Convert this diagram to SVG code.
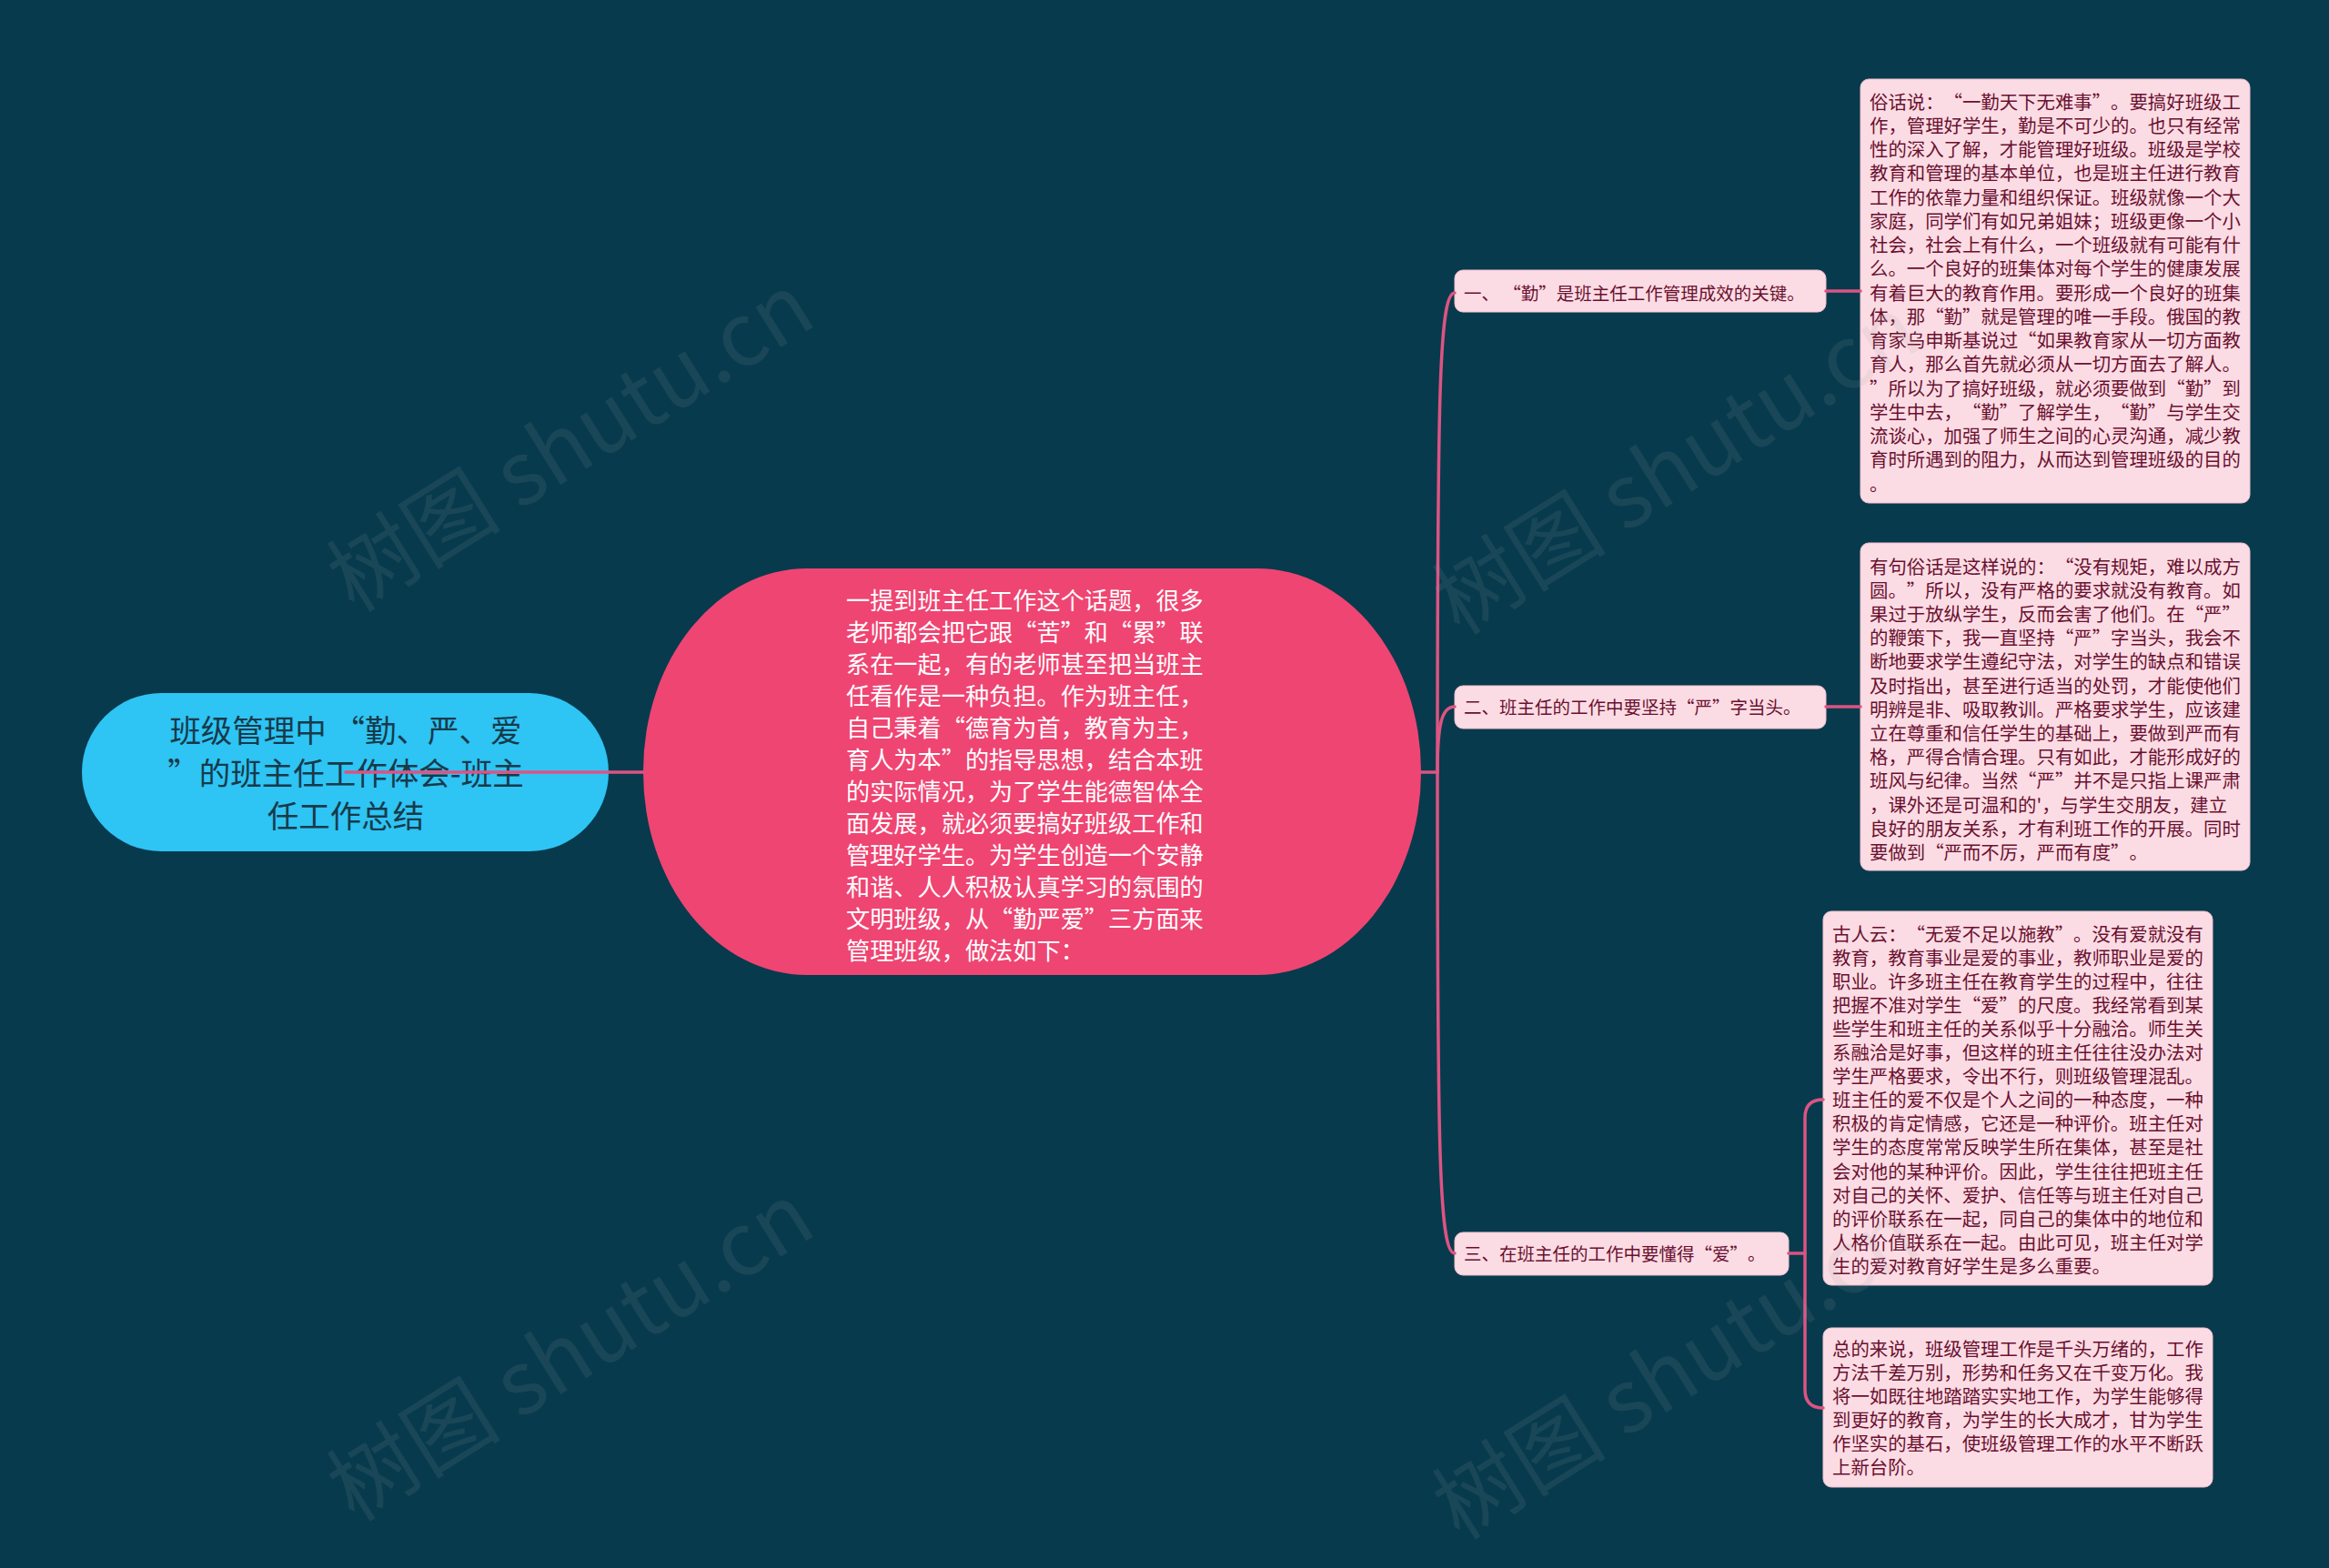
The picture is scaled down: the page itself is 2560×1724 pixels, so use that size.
<svg xmlns="http://www.w3.org/2000/svg" width="2560" height="1724" viewBox="0 0 2560 1724">
<style>
.cjk{font-family:"Noto Sans CJK SC","Noto Sans",sans-serif;text-spacing-trim:space-all;}
.root-t{font-size:34.5px;fill:#173a4a;text-anchor:middle;}
.main-t{font-size:26.2px;fill:#ffffff;}
.br-box{fill:#fcdce4;stroke:#f2c3cf;stroke-width:1;}
.br-t{font-size:19.5px;fill:#6a1030;}
.leaf-t{font-size:20.4px;fill:#6a1030;}
.conn{fill:none;stroke:#dc5482;stroke-width:3.5;stroke-linecap:round;}
.wm{font-size:96px;fill:#9aa2a6;opacity:0.12;font-family:"Noto Sans CJK SC","Liberation Sans",sans-serif;}
</style>
<rect x="0" y="0" width="2560" height="1724" fill="#073a4d"/>

<g id="node-root">
<rect x="90" y="762" width="579" height="174" rx="87" ry="87" fill="#2ec4f4"/>
<text class="cjk root-t" x="380" y="816">班级管理中 “勤、严、爱</text>
<text class="cjk root-t" x="380" y="863">”的班主任工作体会-班主</text>
<text class="cjk root-t" x="380" y="910">任工作总结</text>
</g>

<g id="node-main">
<rect x="707" y="625" width="855" height="447" rx="180" ry="223" fill="#ef4572"/>
<text class="cjk main-t" x="930" y="670">
<tspan x="930" dy="0">一提到班主任工作这个话题，很多</tspan>
<tspan x="930" dy="35">老师都会把它跟“苦”和“累”联</tspan>
<tspan x="930" dy="35">系在一起，有的老师甚至把当班主</tspan>
<tspan x="930" dy="35">任看作是一种负担。作为班主任，</tspan>
<tspan x="930" dy="35">自己秉着“德育为首，教育为主，</tspan>
<tspan x="930" dy="35">育人为本”的指导思想，结合本班</tspan>
<tspan x="930" dy="35">的实际情况，为了学生能德智体全</tspan>
<tspan x="930" dy="35">面发展，就必须要搞好班级工作和</tspan>
<tspan x="930" dy="35">管理好学生。为学生创造一个安静</tspan>
<tspan x="930" dy="35">和谐、人人积极认真学习的氛围的</tspan>
<tspan x="930" dy="35">文明班级，从“勤严爱”三方面来</tspan>
<tspan x="930" dy="35">管理班级，做法如下：</tspan>
</text>
</g>

<g id="node-b1">
<rect class="br-box" x="1599" y="297" width="408" height="46" rx="9"/>
<text class="cjk br-t" x="1609" y="330">一、 “勤”是班主任工作管理成效的关键。</text>
</g>
<g id="node-b2">
<rect class="br-box" x="1599" y="754" width="408" height="47" rx="9"/>
<text class="cjk br-t" x="1609" y="785">二、班主任的工作中要坚持“严”字当头。</text>
</g>
<g id="node-b3">
<rect class="br-box" x="1599" y="1355" width="367" height="47" rx="9"/>
<text class="cjk br-t" x="1609" y="1386">三、在班主任的工作中要懂得“爱”。</text>
</g>

<g id="node-l1">
<rect class="br-box" x="2045" y="87" width="428" height="466" rx="9"/>
<text class="cjk leaf-t" x="2055" y="119.5">
<tspan x="2055" dy="0">俗话说：“一勤天下无难事”。要搞好班级工</tspan>
<tspan x="2055" dy="26.25">作，管理好学生，勤是不可少的。也只有经常</tspan>
<tspan x="2055" dy="26.25">性的深入了解，才能管理好班级。班级是学校</tspan>
<tspan x="2055" dy="26.25">教育和管理的基本单位，也是班主任进行教育</tspan>
<tspan x="2055" dy="26.25">工作的依靠力量和组织保证。班级就像一个大</tspan>
<tspan x="2055" dy="26.25">家庭，同学们有如兄弟姐妹；班级更像一个小</tspan>
<tspan x="2055" dy="26.25">社会，社会上有什么，一个班级就有可能有什</tspan>
<tspan x="2055" dy="26.25">么。一个良好的班集体对每个学生的健康发展</tspan>
<tspan x="2055" dy="26.25">有着巨大的教育作用。要形成一个良好的班集</tspan>
<tspan x="2055" dy="26.25">体，那“勤”就是管理的唯一手段。俄国的教</tspan>
<tspan x="2055" dy="26.25">育家乌申斯基说过“如果教育家从一切方面教</tspan>
<tspan x="2055" dy="26.25">育人，那么首先就必须从一切方面去了解人。</tspan>
<tspan x="2055" dy="26.25">”所以为了搞好班级，就必须要做到“勤”到</tspan>
<tspan x="2055" dy="26.25">学生中去，“勤”了解学生，“勤”与学生交</tspan>
<tspan x="2055" dy="26.25">流谈心，加强了师生之间的心灵沟通，减少教</tspan>
<tspan x="2055" dy="26.25">育时所遇到的阻力，从而达到管理班级的目的</tspan>
<tspan x="2055" dy="26.25">。</tspan>
</text>
</g>

<g id="node-l2">
<rect class="br-box" x="2045" y="597" width="428" height="360" rx="9"/>
<text class="cjk leaf-t" x="2055" y="630.5">
<tspan x="2055" dy="0">有句俗话是这样说的：“没有规矩，难以成方</tspan>
<tspan x="2055" dy="26.2">圆。”所以，没有严格的要求就没有教育。如</tspan>
<tspan x="2055" dy="26.2">果过于放纵学生，反而会害了他们。在“严”</tspan>
<tspan x="2055" dy="26.2">的鞭策下，我一直坚持“严”字当头，我会不</tspan>
<tspan x="2055" dy="26.2">断地要求学生遵纪守法，对学生的缺点和错误</tspan>
<tspan x="2055" dy="26.2">及时指出，甚至进行适当的处罚，才能使他们</tspan>
<tspan x="2055" dy="26.2">明辨是非、吸取教训。严格要求学生，应该建</tspan>
<tspan x="2055" dy="26.2">立在尊重和信任学生的基础上，要做到严而有</tspan>
<tspan x="2055" dy="26.2">格，严得合情合理。只有如此，才能形成好的</tspan>
<tspan x="2055" dy="26.2">班风与纪律。当然“严”并不是只指上课严肃</tspan>
<tspan x="2055" dy="26.2">，课外还是可温和的'，与学生交朋友，建立</tspan>
<tspan x="2055" dy="26.2">良好的朋友关系，才有利班工作的开展。同时</tspan>
<tspan x="2055" dy="26.2">要做到“严而不厉，严而有度”。</tspan>
</text>
</g>

<g id="node-l3">
<rect class="br-box" x="2004" y="1002" width="428" height="411" rx="9"/>
<text class="cjk leaf-t" x="2014" y="1034.5">
<tspan x="2014" dy="0">古人云：“无爱不足以施教”。没有爱就没有</tspan>
<tspan x="2014" dy="26.1">教育，教育事业是爱的事业，教师职业是爱的</tspan>
<tspan x="2014" dy="26.1">职业。许多班主任在教育学生的过程中，往往</tspan>
<tspan x="2014" dy="26.1">把握不准对学生“爱”的尺度。我经常看到某</tspan>
<tspan x="2014" dy="26.1">些学生和班主任的关系似乎十分融洽。师生关</tspan>
<tspan x="2014" dy="26.1">系融洽是好事，但这样的班主任往往没办法对</tspan>
<tspan x="2014" dy="26.1">学生严格要求，令出不行，则班级管理混乱。</tspan>
<tspan x="2014" dy="26.1">班主任的爱不仅是个人之间的一种态度，一种</tspan>
<tspan x="2014" dy="26.1">积极的肯定情感，它还是一种评价。班主任对</tspan>
<tspan x="2014" dy="26.1">学生的态度常常反映学生所在集体，甚至是社</tspan>
<tspan x="2014" dy="26.1">会对他的某种评价。因此，学生往往把班主任</tspan>
<tspan x="2014" dy="26.1">对自己的关怀、爱护、信任等与班主任对自己</tspan>
<tspan x="2014" dy="26.1">的评价联系在一起，同自己的集体中的地位和</tspan>
<tspan x="2014" dy="26.1">人格价值联系在一起。由此可见，班主任对学</tspan>
<tspan x="2014" dy="26.1">生的爱对教育好学生是多么重要。</tspan>
</text>
</g>

<g id="node-l4">
<rect class="br-box" x="2004" y="1460" width="428" height="175" rx="9"/>
<text class="cjk leaf-t" x="2014" y="1490.5">
<tspan x="2014" dy="0">总的来说，班级管理工作是千头万绪的，工作</tspan>
<tspan x="2014" dy="26">方法千差万别，形势和任务又在千变万化。我</tspan>
<tspan x="2014" dy="26">将一如既往地踏踏实实地工作，为学生能够得</tspan>
<tspan x="2014" dy="26">到更好的教育，为学生的长大成才，甘为学生</tspan>
<tspan x="2014" dy="26">作坚实的基石，使班级管理工作的水平不断跃</tspan>
<tspan x="2014" dy="26">上新台阶。</tspan>
</text>
</g>

<g id="connectors">
<path class="conn" d="M380,849 L707,849"/>
<path class="conn" d="M1562,849 L1580,849"/>
<path class="conn" d="M1580,849 C1580,430 1582,322 1599,322"/>
<path class="conn" d="M1580,849 C1580,795 1585,777 1599,777"/>
<path class="conn" d="M1580,849 C1580,1270 1582,1378 1599,1378"/>
<path class="conn" d="M2007,320 L2045,320"/>
<path class="conn" d="M2007,777 L2045,777"/>
<path class="conn" d="M1966,1378 L1984,1378"/>
<path class="conn" d="M2004,1209 Q1984,1209 1984,1229 L1984,1528 Q1984,1548 2004,1548"/>
</g>

<g id="watermarks">
<text class="wm" transform="translate(645,515) rotate(-32)" text-anchor="middle">树图 shutu.cn</text>
<text class="wm" transform="translate(1860,540) rotate(-32)" text-anchor="middle">树图 shutu.cn</text>
<text class="wm" transform="translate(645,1515) rotate(-32)" text-anchor="middle">树图 shutu.cn</text>
<text class="wm" transform="translate(1860,1535) rotate(-32)" text-anchor="middle">树图 shutu.cn</text>
</g>
</svg>
